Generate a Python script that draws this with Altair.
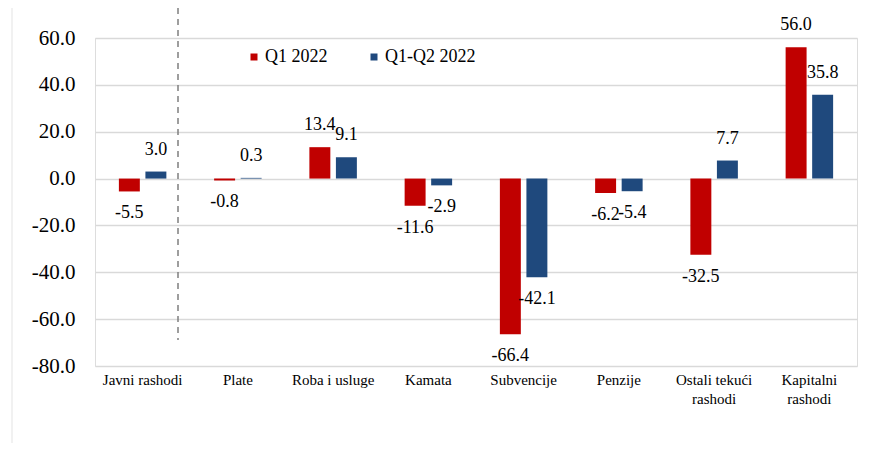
import altair as alt
import pandas as pd

categories = ["Javni rashodi", "Plate", "Roba i usluge", "Kamata", "Subvencije",
              "Penzije", "Ostali tekući\nrashodi", "Kapitalni\nrashodi"]
series = ["Q1 2022", "Q1-Q2 2022"]
q1 = [-5.5, -0.8, 13.4, -11.6, -66.4, -6.2, -32.5, 56.0]
q1q2 = [3.0, 0.3, 9.1, -2.9, -42.1, -5.4, 7.7, 35.8]
colors = ["#C00000", "#1F497D"]
y_ticks = [-80, -60, -40, -20, 0, 20, 40, 60]

rows = []
for c, a, b in zip(categories, q1, q1q2):
    rows.append({"category": c, "series": series[0], "value": a})
    rows.append({"category": c, "series": series[1], "value": b})
df = pd.DataFrame(rows)

FONT = "Times New Roman, 'Liberation Serif', serif"
FIXMINUS = "replace({x}, '\u2212', '-')"

x_enc = alt.X("category:N", sort=categories,
              scale=alt.Scale(paddingInner=0, paddingOuter=0),
              axis=alt.Axis(title=None, domain=False, ticks=False, labelAngle=0,
                            labelPadding=6, labelFontSize=15, labelFont=FONT,
                            labelColor="black", labelLineHeight=19,
                            labelExpr="split(datum.label, '\\n')"))
xo_enc = alt.XOffset("series:N", sort=series,
                     scale=alt.Scale(paddingInner=0.21, paddingOuter=0.9))
y_enc = alt.Y("value:Q",
              scale=alt.Scale(domain=[-80, 60], nice=False, zero=False),
              axis=alt.Axis(title=None, values=y_ticks, format=".1f", grid=True,
                            gridColor="#D9D9D9", gridWidth=1.5, domain=False,
                            ticks=False, labelFontSize=21, labelFont=FONT,
                            labelColor="black", labelPadding=20,
                            labelExpr=FIXMINUS.format(x="datum.label")))

base = alt.Chart(df).transform_calculate(
    lbl=FIXMINUS.format(x="format(datum.value, '.1f')")
)

bars = base.mark_bar().encode(
    x=x_enc, xOffset=xo_enc, y=y_enc,
    color=alt.Color("series:N", sort=series,
                    scale=alt.Scale(domain=series, range=colors),
                    legend=alt.Legend(title=None, orient="none", legendX=150,
                                      legendY=10, direction="horizontal",
                                      symbolType="square", symbolSize=49,
                                      symbolStrokeWidth=0, labelFontSize=18,
                                      labelFont=FONT, labelColor="black",
                                      labelOffset=2, columnPadding=37,
                                      padding=0)),
)

pos_labels = base.transform_filter("datum.value >= 0").mark_text(
    dy=-22, baseline="middle", fontSize=18, font=FONT, color="black"
).encode(x=alt.X("category:N", sort=categories), xOffset=alt.XOffset("series:N", sort=series),
         y="value:Q", text="lbl:N")

neg_labels = base.transform_filter("datum.value < 0").mark_text(
    dy=22, baseline="middle", fontSize=18, font=FONT, color="black"
).encode(x=alt.X("category:N", sort=categories), xOffset=alt.XOffset("series:N", sort=series),
         y="value:Q", text="lbl:N")

one = pd.DataFrame({"k": [0]})
dashed = alt.Chart(one).mark_rule(strokeDash=[6, 5], color="#7F7F7F", strokeWidth=1.5).encode(
    x=alt.value(83), y=alt.value(-30), y2=alt.value(302))
border = alt.Chart(one).mark_rule(color="#E3E3E3", strokeWidth=1).encode(
    x=alt.value(-83), y=alt.value(-30), y2=alt.value(405))

chart = alt.layer(bars, pos_labels, neg_labels, dashed, border).properties(
    width=762, height=328,
    autosize=alt.AutoSizeParams(type="none"),
    padding={"left": 87, "top": 30, "right": 12, "bottom": 77},
).configure_view(stroke=None).configure(background="white")

chart.save("out.html", embed_options={"renderer": "svg", "actions": False})
